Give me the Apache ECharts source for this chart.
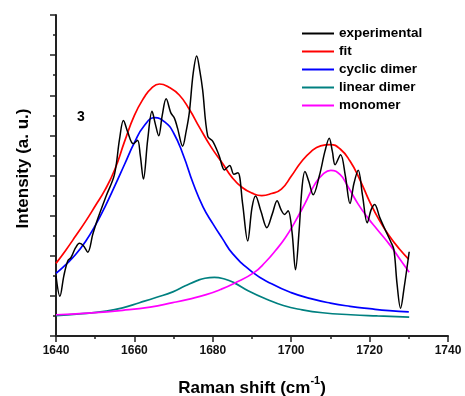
<!DOCTYPE html>
<html><head><meta charset="utf-8">
<script src="https://cdn.jsdelivr.net/npm/echarts@6/dist/echarts.min.js"></script>
<style>html,body{margin:0;padding:0;background:#fff}#c{width:465px;height:396px}</style>
</head><body><div id="c"></div>
<script>
const xTicks = [1640, 1660, 1680, 1700, 1720, 1740];
const seriesNames = ['experimental', 'fit', 'cyclic dimer', 'linear dimer', 'monomer'];
const experimental = [[1640,1.50],[1641,0.99],[1642,1.5],[1643,1.87],[1643.8,1.95],[1645,2.2],[1646,2.31],[1647,2.25],[1648.1,2.09],[1649.4,2.54],[1650.6,2.91],[1652.8,3.49],[1654.9,4.02],[1656.2,4.9],[1657.2,5.37],[1658.3,5.08],[1659.7,4.79],[1660.8,4.88],[1661.5,4.5],[1662.3,3.91],[1663.4,4.9],[1664.5,5.6],[1665.3,5.3],[1666.2,4.99],[1667.1,5.5],[1668.1,5.91],[1669.3,5.56],[1670.2,5.43],[1671.0,5.18],[1672.3,4.73],[1673.2,5.1],[1674.0,5.56],[1675.0,6.55],[1675.9,6.98],[1676.7,6.6],[1677.4,6.14],[1678.7,4.98],[1680.0,4.85],[1681.6,4.5],[1683.0,4.14],[1684.3,4.25],[1685.4,4.03],[1686.4,4.07],[1687.6,3.3],[1688.9,2.37],[1690,3.2],[1690.9,3.49],[1692.3,3.1],[1693.8,2.7],[1695.2,3.05],[1696.4,3.37],[1697.4,3.15],[1698.3,3.03],[1699.2,3.12],[1700.2,2.6],[1701.1,1.65],[1702.0,2.6],[1702.8,3.74],[1703.5,4.1],[1704.5,3.85],[1705.6,3.52],[1707.2,4.0],[1708.6,4.6],[1709.7,4.93],[1710.5,4.6],[1711.2,4.27],[1712.6,4.52],[1713.8,4.0],[1715.0,3.3],[1716.0,3.8],[1717.1,4.13],[1718.2,3.5],[1719.4,2.82],[1720.4,3.15],[1721.3,3.28],[1722.6,2.95],[1724.2,2.6],[1725.4,2.35],[1726.2,2.15],[1727.0,1.3],[1727.9,0.69],[1728.8,1.2],[1730.1,2.1]];
const fit = [[1640,1.81],[1642.5,2.14],[1645,2.49],[1647.5,2.85],[1650,3.24],[1652.5,3.64],[1655,4.15],[1657.5,4.85],[1660,5.5],[1662.5,5.95],[1664.2,6.16],[1666.4,6.28],[1668.8,6.2],[1671.5,6.0],[1674,5.65],[1676.6,5.2],[1679.5,4.72],[1682.5,4.3],[1685,3.94],[1687.5,3.7],[1690,3.56],[1692.5,3.5],[1695,3.55],[1697.5,3.66],[1700,3.98],[1702.5,4.33],[1705,4.59],[1707.5,4.74],[1710,4.77],[1712.5,4.66],[1715,4.36],[1717.5,3.9],[1720,3.35],[1722.5,2.88],[1725,2.5],[1727.5,2.18],[1730,1.91]];
const cyclicDimer = [[1640,1.56],[1642.5,1.78],[1645,2.03],[1647.5,2.35],[1650,2.75],[1652.5,3.22],[1655,3.74],[1657.5,4.28],[1660,4.82],[1662.5,5.24],[1665.2,5.44],[1667.8,5.33],[1670,5.06],[1672.5,4.5],[1675,3.8],[1677.5,3.22],[1680,2.8],[1682.5,2.42],[1685,2.06],[1690,1.6],[1695,1.3],[1700,1.08],[1705,0.93],[1710,0.82],[1715,0.74],[1720,0.68],[1725,0.63],[1730,0.6]];
const linearDimer = [[1640,0.51],[1646,0.55],[1652.8,0.62],[1657,0.7],[1661.3,0.83],[1665.5,0.96],[1669.8,1.1],[1673,1.25],[1676,1.38],[1678,1.44],[1680.4,1.46],[1683,1.42],[1685.4,1.33],[1689,1.13],[1693.9,0.91],[1698,0.76],[1702.4,0.66],[1708,0.58],[1715.2,0.53],[1722,0.5],[1730.1,0.47]];
const monomer = [[1640,0.53],[1648,0.57],[1657,0.64],[1664,0.72],[1669.8,0.83],[1674,0.92],[1678.3,1.03],[1682,1.16],[1685.4,1.31],[1690.5,1.58],[1693.5,1.85],[1696,2.13],[1698.5,2.45],[1701,2.85],[1703.5,3.3],[1706,3.78],[1708,4.02],[1710.1,4.13],[1712.5,4.02],[1714.5,3.72],[1717,3.3],[1719.5,2.95],[1722,2.65],[1725.4,2.24],[1727.7,1.92],[1730.1,1.59]];
const colors = ['#000000', '#ff0000', '#0000ff', '#008080', '#ff00ff'];

const chart = echarts.init(document.getElementById('c'), null, {renderer: 'canvas'});
const font = 'Liberation Sans, Arial, sans-serif';
const datasets = [experimental, fit, cyclicDimer, linearDimer, monomer];
chart.setOption({
  animation: false,
  backgroundColor: '#fff',
  grid: {left: 56, right: 17, top: 15, bottom: 60, containLabel: false},
  legend: {
    orient: 'vertical', left: 302, top: 26, padding: 0, itemWidth: 32, itemHeight: 2, itemGap: 3,
    icon: 'rect',
    data: seriesNames,
    textStyle: {fontFamily: font, fontWeight: 'bold', fontSize: 13.5, color: '#000', lineHeight: 15}
  },
  xAxis: {
    type: 'value', min: xTicks[0], max: xTicks[xTicks.length - 1], interval: 20,
    axisLine: {onZero: false, lineStyle: {color: '#222', width: 2}},
    axisTick: {inside: false, length: 6, lineStyle: {color: '#222', width: 1.5}},
    minorTick: {show: true, splitNumber: 2, length: 3, lineStyle: {color: '#222', width: 1.5}},
    axisLabel: {margin: 9, fontFamily: font, fontWeight: 'bold', fontSize: 12, color: '#111',
      formatter: v => String(v)},
    splitLine: {show: false}
  },
  yAxis: {
    type: 'value', min: 0, max: 8, interval: 1,
    axisLine: {show: true, onZero: false, lineStyle: {color: '#222', width: 2}},
    axisTick: {show: true, inside: false, length: 6, lineStyle: {color: '#222', width: 1.5}},
    minorTick: {show: true, splitNumber: 2, length: 3, lineStyle: {color: '#222', width: 1.5}},
    axisLabel: {show: false},
    splitLine: {show: false}
  },
  graphic: [
    {type: 'text', left: 77, top: 110, style: {text: '3', font: 'bold 14px ' + font, fill: '#000'}},
    {type: 'text', x: 23, y: 168.5, rotation: Math.PI / 2,
     style: {text: 'Intensity (a. u.)', font: 'bold 17px ' + font, fill: '#000', align: 'center', verticalAlign: 'middle'}},
    {type: 'text', x: 252, y: 386,
     style: {text: '{a|Raman shift (cm}{b|-1}{a|)}', align: 'center', verticalAlign: 'middle', fill: '#000',
       rich: {a: {font: 'bold 17px ' + font, fill: '#000', lineHeight: 22, verticalAlign: 'bottom'},
              b: {font: 'bold 11px ' + font, fill: '#000', lineHeight: 22, verticalAlign: 'top'}}}}
  ],
  series: datasets.map((d, i) => ({
    name: seriesNames[i], type: 'line', data: d, showSymbol: false, symbol: 'none',
    smooth: i === 0 ? 0.35 : 0.5, clip: false,
    lineStyle: {color: colors[i], width: i === 0 ? 1.5 : 1.7},
    itemStyle: {color: colors[i]}, z: i === 0 ? 3 : 2
  }))
});
</script></body></html>
